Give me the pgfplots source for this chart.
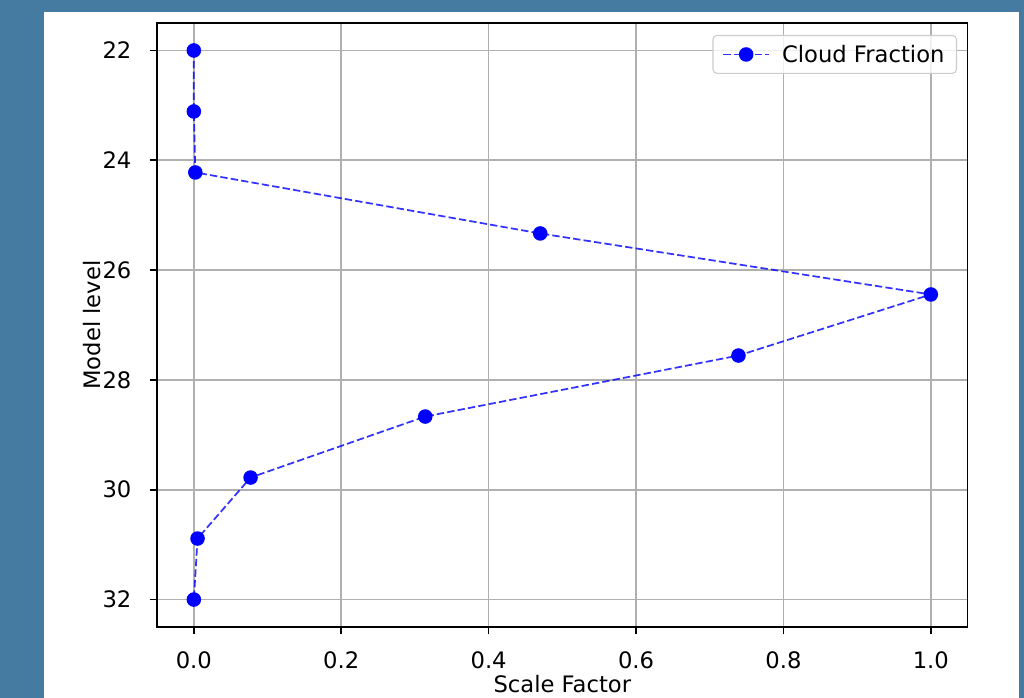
\documentclass[border=0pt]{standalone}
\usepackage{pgfplots}
\pgfplotsset{compat=1.18}
\usepackage{fontspec}
\setmainfont{DejaVu Sans}
\definecolor{frameblue}{RGB}{69,123,161}
\definecolor{gridgray}{RGB}{176,176,176}
\definecolor{legedge}{RGB}{204,204,204}

\pgfplotstableread{
sf    lev
0.000 22.000
0.000 23.111
0.002 24.222
0.470 25.333
1.000 26.444
0.739 27.556
0.314 28.667
0.077 29.778
0.005 30.889
0.000 32.000
}\cloudfrac

\newcommand{\figfont}{\fontsize{17}{20}\selectfont}

\begin{document}
\begin{tikzpicture}[x=0.75pt,y=0.75pt]
% frame and figure background
\fill[frameblue] (0,0) rectangle (1024,698);
\fill[white] (44,0) rectangle (1019,686);
\begin{axis}[
  at={(117.75pt,53.25pt)}, anchor=south west,
  scale only axis, width=608pt, height=453pt,
  xmin=-0.05, xmax=1.05,
  ymin=21.5, ymax=32.5, y dir=reverse,
  xtick={0,0.2,0.4,0.6,0.8,1.0},
  ytick={22,24,26,28,30,32},
  /pgf/number format/assume math mode=true,
  x tick label style={/pgf/number format/fixed, /pgf/number format/fixed zerofill, /pgf/number format/precision=1},
  tick label style={font=\figfont, text=black},
  xticklabel style={anchor=north, inner sep=0pt, yshift=-12.5pt},
  yticklabel style={anchor=east, inner sep=0pt, xshift=-13.5pt},
  tick align=outside, tick pos=left,
  major tick length=5.5pt,
  tick style={black, line width=1.2pt},
  axis line style={black, line width=1.2pt},
  grid=major,
  major grid style={gridgray, line width=1.2pt},
  xlabel={Scale Factor}, ylabel={Model level},
  label style={font=\figfont},
  xlabel style={at={(axis description cs:0.5,-0.0944)}, anchor=center},
  ylabel style={at={(axis description cs:-0.0802,0.5)}, anchor=center},
  legend style={
    at={(axis description cs:1,1)}, anchor=north east,
    xshift=-8pt, yshift=-9pt,
    font=\figfont, draw=legedge, line width=0.8pt,
    rounded corners=3pt, fill=white, fill opacity=0.8, text opacity=1,
    inner xsep=7pt, inner ysep=5pt,
    cells={anchor=west},
    /tikz/every odd column/.append style={column sep=7pt},
  },
  legend image code/.code={
    \draw[mark repeat=2, mark phase=2, #1]
      plot coordinates {(0pt,0pt) (17.25pt,0pt) (34.5pt,0pt)};
  },
]
\addplot[
  color=blue, draw opacity=0.8, line width=1.3pt,
  dash pattern=on 5.5pt off 2.4pt,
  mark=*, mark size=4.8pt,
  mark options={solid, fill=blue, draw=blue, draw opacity=1, fill opacity=1},
] table[x=sf, y=lev] {\cloudfrac};
\addlegendentry{Cloud Fraction}
\end{axis}
\end{tikzpicture}
\end{document}
